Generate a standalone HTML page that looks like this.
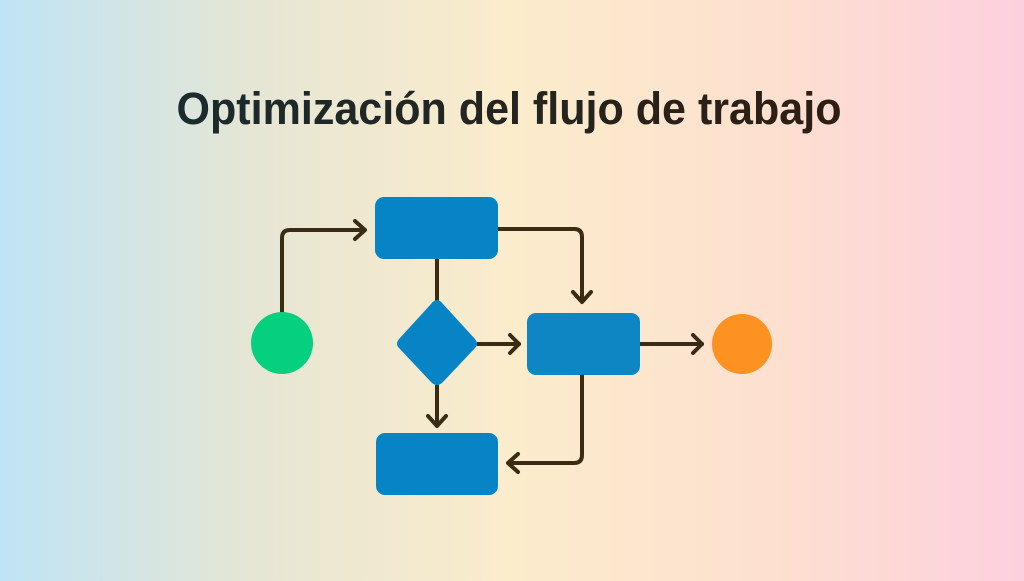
<!DOCTYPE html>
<html><head><meta charset="utf-8"><style>
html,body{margin:0;padding:0}
body{width:1024px;height:576px;overflow:hidden;background:linear-gradient(90deg,#bfe4f6 0%,#e6e6d4 25%,#fbeccc 50%,#fde0cf 75%,#fdd0df 100%)}
</style></head><body>
<svg width="1024" height="576" viewBox="0 0 1024 576" xmlns="http://www.w3.org/2000/svg">
<defs><linearGradient id="t" x1="0" x2="1"><stop offset="0" stop-color="#1b2b2e"/><stop offset="1" stop-color="#2e1e12"/></linearGradient></defs>
<text x="509" y="124" text-anchor="middle" font-family="Liberation Sans, sans-serif" font-weight="bold" font-size="45" fill="url(#t)" textLength="665" lengthAdjust="spacingAndGlyphs">Optimización del flujo de trabajo</text>
<g fill="none" stroke="#3a2b15" stroke-width="4" stroke-linecap="round" stroke-linejoin="round">
<path d="M282 312 V238 Q282 230 290 230 H364"/>
<path d="M355 221 L365 230 L355 239"/>
<path d="M498 229 H574 Q582 229 582 237 V301"/>
<path d="M573 292 L582 302 L591 292"/>
<path d="M437 259 V302"/>
<path d="M478 344 H519"/>
<path d="M510 335 L519 344 L510 353"/>
<path d="M437 386 V425"/>
<path d="M428 416 L437 426 L446 416"/>
<path d="M640 344 H702"/>
<path d="M693 335 L702 344 L693 353"/>
<path d="M582 375 V455 Q582 463 574 463 H509"/>
<path d="M518 454 L508 463 L518 472"/>
</g>
<rect x="375" y="197" width="123" height="62" rx="9" fill="#0684c6"/>
<rect x="527" y="313" width="113" height="62" rx="9" fill="#0e86c4"/>
<rect x="376" y="433" width="122" height="62" rx="9" fill="#0684c6"/>
<path d="M437 300 Q440 300 443 304 L475 339 Q479 344 475 348 L443 382 Q437 388 431 382 L399 348 Q395 344 399 339 L431 304 Q434 300 437 300Z" fill="#0684c6"/>
<circle cx="282" cy="343" r="31" fill="#05d07f"/>
<circle cx="742" cy="344" r="30" fill="#fd9122"/>
</svg>
</body></html>
